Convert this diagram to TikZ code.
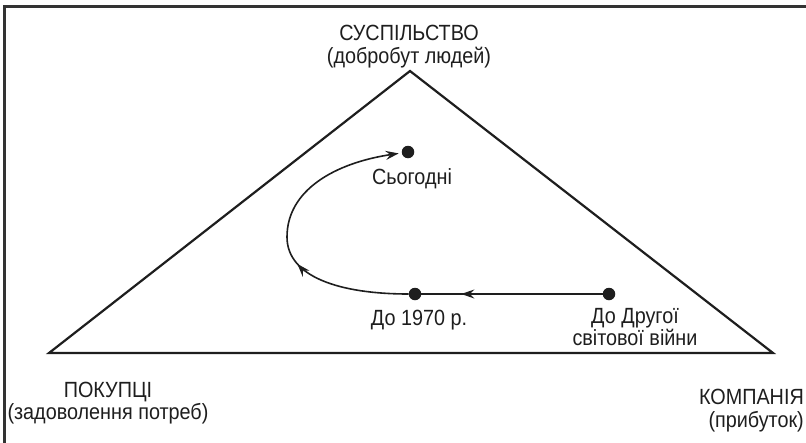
\documentclass[tikz,border=0pt]{standalone}
\usepackage{fontspec}
\setmainfont{Liberation Sans}[FakeStretch=0.9]
\usetikzlibrary{arrows.meta,decorations.markings}
\definecolor{ink}{HTML}{1E1E1E}
\definecolor{framec}{HTML}{333333}
\tikzset{
  lbl/.style={align=center, inner sep=0pt, text=ink, font=\fontsize{22}{22.5}\selectfont},
  dot/.style={circle, fill=ink, inner sep=0pt, minimum size=12.5pt},
  tri/.style={draw=ink, line width=2.2pt, line join=miter},
  conn/.style={draw=ink, line width=1.6pt},
  headtip/.tip={Stealth[length=13pt, width=9pt, inset=4.5pt]},
  midarrow/.style={decoration={markings, mark=at position #1 with {\arrow{headtip}}}, postaction=decorate},
  framel/.style={draw=framec, line width=3pt}
}
\begin{document}
\begin{tikzpicture}[x=1pt, y=-1pt]
\useasboundingbox (0,0) rectangle (806,442);
\clip (0,0) rectangle (806,442);
\fill[white] (0,0) rectangle (806,442);
% frame
\draw[framel] (4.5,460) -- (4.5,6) -- (830,6);
% triangle
\coordinate (apex) at (410,71);
\coordinate (bl) at (49,353);
\coordinate (br) at (773,353);
\draw[tri] (bl) -- (apex) -- (br) -- cycle;
% corner labels
\node[lbl] (soc) at (409,46.5) {СУСПІЛЬСТВО\\(добробут людей)};
\node[lbl] (buy) at (108,403) {ПОКУПЦІ\\(задоволення потреб)};
\node[lbl, anchor=east, align=right] (comp) at (804,410.5) {КОМПАНІЯ\\(прибуток)};
% points
\node[dot] (today) at (408,152) {};
\node[dot] (d1970) at (415,294) {};
\node[dot] (ww2) at (609,294) {};
\node[lbl] (ltoday) at (412,179) {Сьогодні};
\node[lbl] (l1970) at (419,320) {До 1970 р.};
\node[lbl] (lww2) at (635,327) {До Другої\\світової війни};
% connectors
\draw[conn, midarrow=0.78] (ww2) -- (d1970);
\draw[conn, midarrow=118pt, -{headtip}, shorten >=3pt] (d1970) .. controls (340,294) and (287,277) .. (287,237)
   .. controls (287,190) and (335,163) .. (today);
\end{tikzpicture}
\end{document}
